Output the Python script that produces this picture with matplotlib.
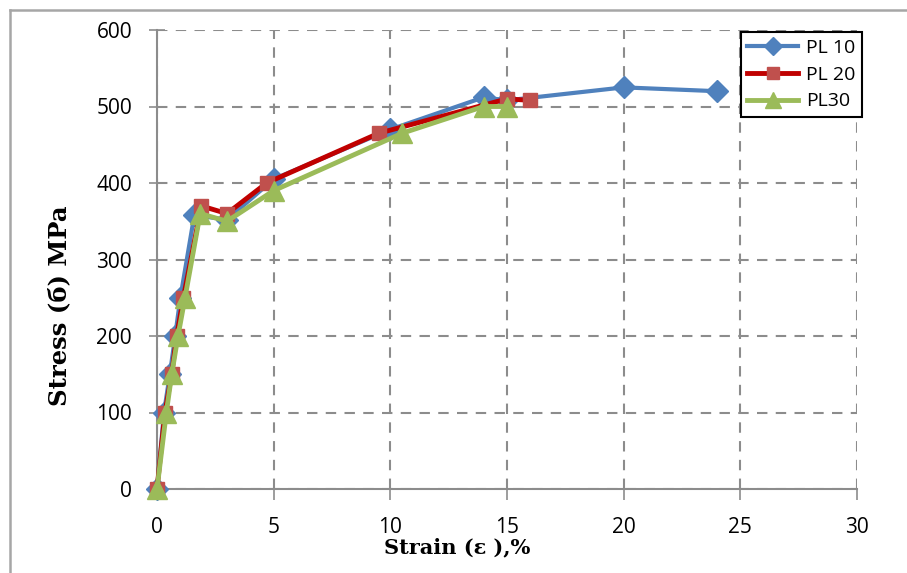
import numpy as np
import matplotlib
matplotlib.use('Agg')
import matplotlib.pyplot as plt
from matplotlib.lines import Line2D

# data
pl10_x = [0, 0.3, 0.55, 0.78, 1.0, 1.6, 3, 5, 10, 14, 15, 20, 24]
pl10_y = [0, 100, 150, 200, 250, 358, 352, 405, 470, 512, 508, 525, 520]
pl20_x = [0, 0.34, 0.63, 0.84, 1.13, 1.9, 3, 4.7, 9.5, 15, 16]
pl20_y = [0, 100, 150, 200, 250, 370, 360, 400, 465, 510, 508]
pl30_x = [0, 0.4, 0.63, 0.9, 1.2, 1.85, 3, 5, 10.5, 14, 15]
pl30_y = [0, 100, 150, 200, 250, 360, 350, 390, 465, 500, 500]
labels = ['PL 10', 'PL 20', 'PL30']

fig = plt.figure(figsize=(9.07, 5.73), dpi=100)
ax = fig.add_axes([157/907, 1-489/573, 700/907, 459/573])

ax.plot(pl10_x, pl10_y, color='#4F81BD', lw=3, marker='D', ms=11.5,
        mfc='#4F81BD', mec='#4F81BD', label=labels[0], zorder=3, clip_on=False)
ax.plot(pl20_x, pl20_y, color='#C00000', lw=3.5, marker='s', ms=10.5,
        mfc='#C0504D', mec='#C0504D', label=labels[1], zorder=4, clip_on=False)
ax.plot(pl30_x, pl30_y, color='#9BBB59', lw=3.5, marker='^', ms=14,
        mfc='#9BBB59', mec='#9BBB59', label=labels[2], zorder=5, clip_on=False)

ax.set_xlim(0, 30)
ax.set_ylim(0, 600)
ax.set_xticks(np.arange(0, 31, 5))
ax.set_yticks(np.arange(0, 601, 100))
for lab in ax.get_xticklabels() + ax.get_yticklabels():
    lab.set_fontfamily('Open Sans')
ax.tick_params(axis='x', direction='out', length=8, width=1.2, color='#8c8c8c',
               labelsize=15, pad=12)
ax.tick_params(axis='y', direction='inout', length=12, width=1.2, color='#8c8c8c',
               labelsize=15, pad=12)

ax.grid(True, color='#8c8c8c', ls=(0, (5, 4)), lw=1.5)
ax.set_axisbelow(True)
for s in ['top', 'right']:
    ax.spines[s].set_visible(False)
for s in ['left', 'bottom']:
    ax.spines[s].set_color('#8c8c8c')
    ax.spines[s].set_linewidth(1.5)

ax.set_xlabel('Strain (ε ),%', fontsize=15, fontweight='bold',
              family='DejaVu Serif')
ax.xaxis.set_label_coords(0.4286, -0.105)
ax.set_ylabel('Stress (б) MPa', fontsize=17.5, fontweight='bold',
              family='DejaVu Serif')
ax.yaxis.set_label_coords(-0.122, 0.40)

leg = ax.legend(loc='upper right', bbox_to_anchor=(1.0071, 0.9956), borderaxespad=0,
                fancybox=False, edgecolor='black', framealpha=1,
                prop={'family': 'Open Sans', 'size': 14},
                handlelength=2.6, borderpad=0.35, labelspacing=0.45, handletextpad=0.4,
                markerscale=0.8)
leg.get_frame().set_linewidth(1.5)
leg.set_zorder(10)

# outer chart frame (cropped at right and bottom)
fig.add_artist(Line2D([10/907, 10/907], [0, 1-10/573], color='#a6a6a6', lw=1.8))
fig.add_artist(Line2D([10/907, 1], [1-10/573, 1-10/573], color='#a6a6a6', lw=1.8))

fig.savefig('out.png', dpi=100)
